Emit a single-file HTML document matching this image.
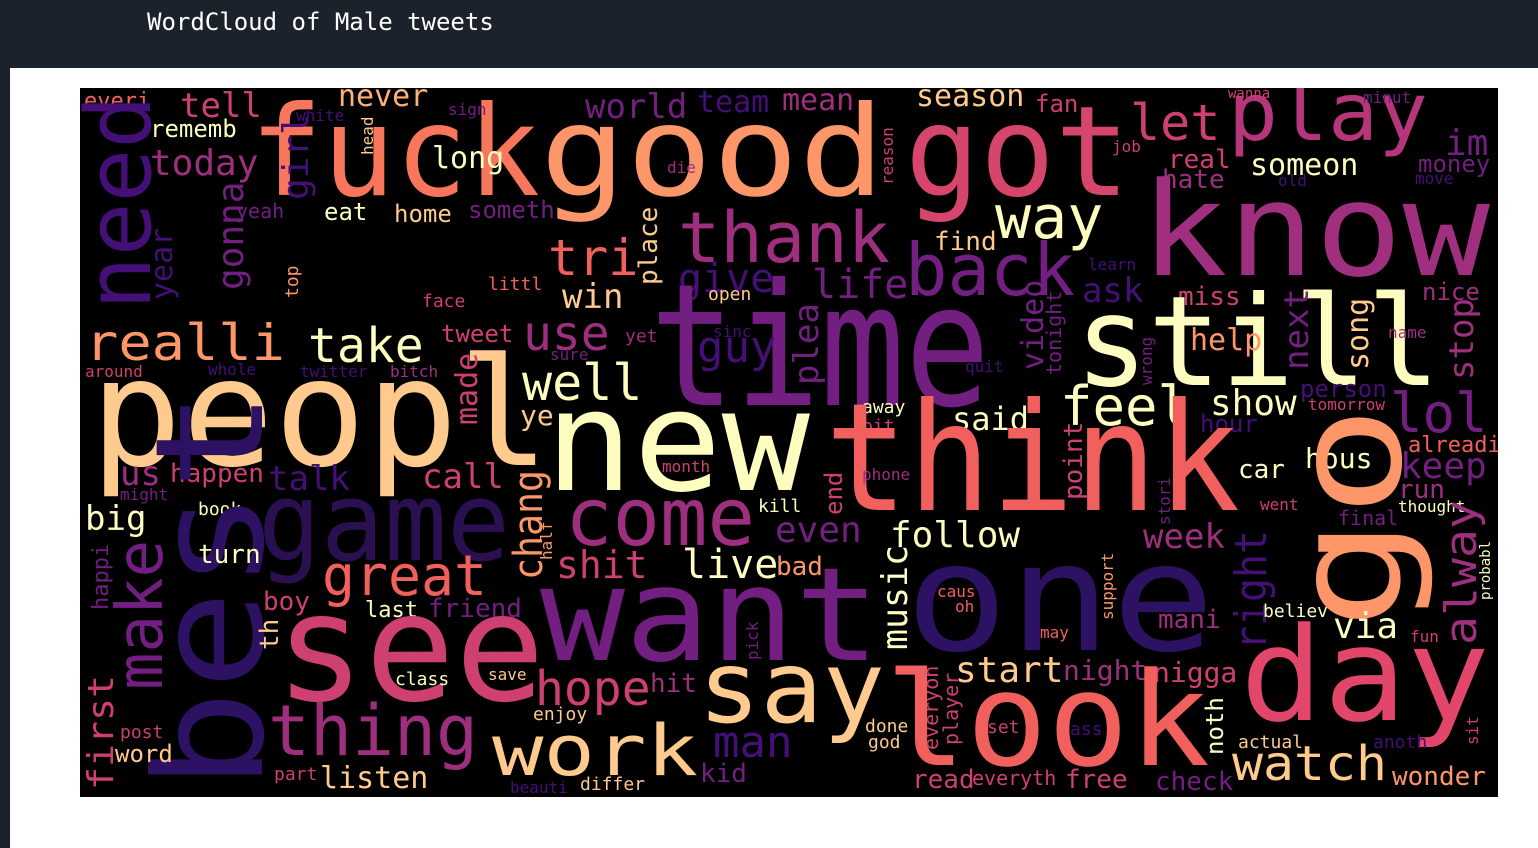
<!DOCTYPE html>
<html><head><meta charset="utf-8"><style>
html,body{margin:0;padding:0;width:1538px;height:848px;overflow:hidden;background:#fff}
#hdr{position:absolute;left:0;top:0;width:1538px;height:68px;background:#1c222c}
#title{position:absolute;left:147px;top:8px;color:#fff;font-family:"DejaVu Sans Mono","Liberation Mono",monospace;font-size:24px}
#strip{position:absolute;left:0;top:68px;width:10px;height:780px;background:#1c222c}
#cloud{position:absolute;left:80px;top:88px}
text{font-family:"DejaVu Sans Mono","Liberation Mono",monospace}
</style></head><body>
<div id="hdr"><div id="title">WordCloud of Male tweets</div></div>
<div id="strip"></div>
<svg id="cloud" width="1418" height="709" viewBox="80 88 1418 709">
<rect x="80" y="88" width="1418" height="709" fill="#000"/>
<g id="words"></g>
</svg>
<script>
// word, x, baselineY, size, color, vertical(0/1), textLength(0=auto)
const words=[
["everi",84,108,22,"#f1605d",0,0],["tell",180,117,34,"#cd4071",0,0],
["fuck",250,195,125,"#f8765c",0,290],["good",540,195,125,"#fd9668",0,345],
["never",338,106,30,"#feb078",0,0],["sign",448,115,16,"#721f81",0,0],
["world",585,118,34,"#721f81",0,0],["team",697,112,30,"#440f76",0,0],
["mean",782,110,30,"#9e2f7f",0,0],["season",916,106,30,"#feca8d",0,0],
["fan",1035,112,24,"#cd4071",0,0],["got",905,195,125,"#d6456c",0,225],
["let",1130,140,50,"#cd4071",0,0],["play",1228,140,80,"#b5367a",0,200],
["wanna",1228,98,14,"#cd4071",0,0],["minut",1363,103,16,"#721f81",0,0],
["im",1445,155,36,"#721f81",0,0],["money",1418,172,24,"#721f81",0,0],
["real",1168,168,26,"#cd4071",0,0],["hate",1162,188,26,"#9e2f7f",0,0],
["someon",1250,175,30,"#fcfdbf",0,0],["job",1112,152,16,"#cd4071",0,0],
["know",1140,275,130,"#a0307f",0,350],["rememb",150,137,24,"#fcfdbf",0,0],
["today",150,175,36,"#9e2f7f",0,0],["need",150,310,90,"#440f76",1,215],
["white",296,121,16,"#440f76",0,0],["head",373,155,16,"#feca8d",1,0],
["long",432,168,30,"#fcfdbf",0,0],["die",667,173,16,"#9e2f7f",0,0],
["reason",893,185,16,"#cd4071",1,0],["yeah",236,218,20,"#721f81",0,0],
["eat",324,220,24,"#fcfdbf",0,0],["home",394,222,24,"#feca8d",0,0],
["someth",468,218,24,"#721f81",0,0],["thank",678,262,70,"#9e2f7f",0,212],
["way",995,238,60,"#fcfdbf",0,0],["find",934,250,26,"#feca8d",0,0],
["back",905,295,72,"#721f81",0,170],["learn",1088,270,16,"#440f76",0,0],
["gonna",243,290,36,"#721f81",1,0],["year",172,300,30,"#440f76",1,0],
["top",298,298,18,"#fd9668",1,0],["tri",548,275,50,"#f1605d",0,0],
["place",657,285,26,"#feca8d",1,0],["give",678,292,40,"#440f76",0,0],
["life",812,298,40,"#721f81",0,0],["face",422,307,18,"#cd4071",0,0],
["littl",488,290,18,"#f1605d",0,0],["win",562,308,34,"#feca8d",0,0],
["open",708,300,18,"#feca8d",0,0],["ask",1082,302,34,"#440f76",0,0],
["miss",1178,305,26,"#cd4071",0,0],["nice",1422,300,24,"#9e2f7f",0,0],
["time",650,405,170,"#721f81",0,340],["still",1075,385,125,"#fcfdbf",0,365],
["song",1368,370,30,"#feca8d",1,0],["next",1308,370,34,"#721f81",1,0],
["stop",1473,380,34,"#9e2f7f",1,0],["video",1043,370,30,"#721f81",1,0],
["tonight",1061,375,20,"#721f81",1,0],["wrong",1152,385,16,"#721f81",1,0],
["name",1388,338,16,"#9e2f7f",0,0],["help",1190,350,30,"#fd9668",0,0],
["realli",85,360,50,"#fd9668",0,200],["take",308,362,48,"#fcfdbf",0,0],
["tweet",441,342,24,"#cd4071",0,0],["use",523,350,48,"#9e2f7f",0,0],
["yet",625,342,18,"#9e2f7f",0,0],["sinc",713,337,16,"#440f76",0,0],
["sure",550,360,16,"#721f81",0,0],["guy",697,362,44,"#440f76",0,0],
["plea",818,385,34,"#721f81",1,0],["quit",965,372,16,"#440f76",0,0],
["around",85,377,16,"#cd4071",0,0],["whole",208,375,16,"#440f76",0,0],
["twitter",300,377,16,"#440f76",0,0],["bitch",390,377,16,"#9e2f7f",0,0],
["well",522,400,50,"#fcfdbf",0,0],["peopl",90,465,150,"#feca8d",0,460],
["made",477,425,30,"#cd4071",1,0],["ye",520,425,28,"#feca8d",0,0],
["new",545,490,140,"#fcfdbf",0,265],["away",862,413,18,"#fcfdbf",0,0],
["bit",862,432,18,"#cd4071",0,0],["said",952,430,32,"#fcfdbf",0,0],
["feel",1060,425,54,"#fcfdbf",0,0],["show",1210,415,36,"#fcfdbf",0,0],
["person",1300,397,24,"#440f76",0,0],["tomorrow",1308,410,16,"#cd4071",0,0],
["hour",1200,432,24,"#440f76",0,0],["lol",1390,432,54,"#721f81",0,0],
["think",825,510,150,"#f1605d",0,415],["point",1082,500,26,"#cd4071",1,0],
["alreadi",1408,452,22,"#f1605d",0,0],["keep",1400,478,36,"#721f81",0,0],
["hous",1305,468,28,"#fcfdbf",0,0],["car",1238,478,26,"#fcfdbf",0,0],
["go",1400,630,150,"#fd9668",1,225],["us",120,485,34,"#9e2f7f",0,0],
["happen",170,482,26,"#cd4071",0,0],["talk",268,490,34,"#440f76",0,0],
["might",120,500,16,"#721f81",0,0],["call",422,488,34,"#cd4071",0,0],
["month",662,472,16,"#cd4071",0,0],["phone",862,480,16,"#9e2f7f",0,0],
["end",842,515,24,"#cd4071",1,0],["run",1398,498,26,"#9e2f7f",0,0],
["went",1260,510,16,"#cd4071",0,0],["final",1338,525,20,"#721f81",0,0],
["thought",1398,512,16,"#fcfdbf",0,0],["big",85,530,34,"#fcfdbf",0,0],
["book",198,515,18,"#fcfdbf",0,0],["game",258,560,110,"#2a1050",0,252],
["best",262,790,150,"#2d1163",1,400],["make",162,690,64,"#721f81",1,150],
["happi",108,610,22,"#721f81",1,0],["first",113,790,36,"#cd4071",1,115],
["chang",542,580,40,"#fd9668",1,110],["half",552,560,16,"#fd9668",1,0],
["come",565,545,80,"#9e2f7f",0,190],["kill",758,512,18,"#fcfdbf",0,0],
["even",775,542,36,"#721f81",0,0],["follow",890,547,36,"#fcfdbf",0,0],
["stori",1170,525,16,"#721f81",1,0],["week",1143,548,34,"#9e2f7f",0,0],
["right",1266,650,44,"#440f76",1,120],["alway",1476,645,44,"#9e2f7f",1,145],
["probabl",1490,600,14,"#fcfdbf",1,0],["turn",198,563,26,"#fcfdbf",0,0],
["great",322,595,56,"#f1605d",0,165],["shit",556,578,38,"#cd4071",0,0],
["live",682,578,40,"#fcfdbf",0,0],["bad",776,575,26,"#fd9668",0,0],
["music",907,650,36,"#fcfdbf",1,105],["one",905,650,150,"#2d1163",0,310],
["support",1113,620,16,"#fd9668",1,0],["boy",263,610,26,"#cd4071",0,0],
["last",365,617,22,"#fcfdbf",0,0],["friend",428,617,26,"#721f81",0,0],
["th",278,650,26,"#feca8d",1,0],["want",540,660,130,"#721f81",0,340],
["caus",937,597,16,"#f1605d",0,0],["oh",955,612,16,"#f1605d",0,0],
["pick",758,660,16,"#721f81",1,0],["may",1040,638,16,"#f1605d",0,0],
["mani",1158,628,26,"#9e2f7f",0,0],["believ",1263,617,18,"#fcfdbf",0,0],
["via",1333,638,36,"#fcfdbf",0,0],["fun",1410,642,16,"#cd4071",0,0],
["see",275,700,150,"#cd4071",0,270],["class",395,685,18,"#fcfdbf",0,0],
["save",488,680,16,"#feca8d",0,0],["hope",535,705,48,"#cd4071",0,0],
["hit",650,692,26,"#9e2f7f",0,0],["say",698,722,100,"#feca8d",0,187],
["start",955,682,36,"#feca8d",0,0],["night",1063,680,28,"#9e2f7f",0,0],
["nigga",1153,682,28,"#cd4071",0,0],["day",1240,720,130,"#e2466b",0,250],
["look",885,765,130,"#f1605d",0,325],["everyon",938,750,20,"#cd4071",1,0],
["player",958,745,20,"#cd4071",1,0],["done",865,732,18,"#feca8d",0,0],
["god",868,748,18,"#feca8d",0,0],["set",987,733,18,"#cd4071",0,0],
["ass",1070,735,18,"#440f76",0,0],["noth",1223,755,24,"#fcfdbf",1,0],
["actual",1238,748,18,"#feca8d",0,0],["anoth",1373,748,18,"#440f76",0,0],
["sit",1478,745,16,"#cd4071",1,0],["post",120,738,18,"#cd4071",0,0],
["enjoy",533,720,18,"#feca8d",0,0],["thing",268,755,70,"#9e2f7f",0,210],
["word",115,762,24,"#feca8d",0,0],["work",492,775,70,"#feca8d",0,206],
["man",713,757,44,"#440f76",0,0],["kid",700,782,26,"#721f81",0,0],
["read",912,788,26,"#cd4071",0,0],["everyth",972,785,20,"#cd4071",0,0],
["free",1065,788,26,"#cd4071",0,0],["check",1155,790,26,"#721f81",0,0],
["watch",1232,780,48,"#feca8d",0,155],["wonder",1392,785,26,"#fd9668",0,0],
["part",274,780,18,"#cd4071",0,0],["listen",320,788,30,"#feca8d",0,0],
["beauti",510,793,16,"#440f76",0,0],["differ",580,790,18,"#feca8d",0,0],
["girl",308,200,36,"#440f76",1,0],["old",1278,186,16,"#440f76",0,0],
["move",1415,184,16,"#440f76",0,0]
];
const g=document.getElementById('words');
const NS='http://www.w3.org/2000/svg';
for(const w of words){
  const t=document.createElementNS(NS,'text');
  
  
  t.setAttribute('font-size',w[3]);
  t.setAttribute('fill',w[4]);
  if(w[5]){t.setAttribute('transform','translate('+w[1]+','+w[2]+') rotate(-90)');t.setAttribute('x',0);t.setAttribute('y',0);}
  else{t.setAttribute('x',w[1]);t.setAttribute('y',w[2]);}
  if(w[6]){t.setAttribute('textLength',w[6]);t.setAttribute('lengthAdjust','spacingAndGlyphs');}
  t.textContent=w[0];
  g.appendChild(t);
}
</script>
</body></html>
